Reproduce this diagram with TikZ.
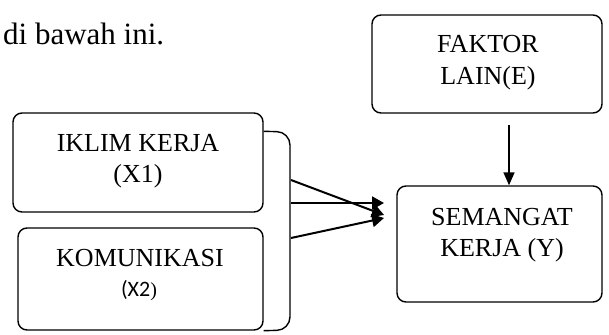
\documentclass[tikz,border=0pt]{standalone}
\usepackage{fontspec}
\setmainfont{Liberation Serif}
\newfontfamily\calfont{Carlito}
\usetikzlibrary{arrows.meta}
\begin{document}
\begin{tikzpicture}[x=1pt,y=1pt,
  box/.style={draw,line width=1.4pt,rounded corners=9pt,inner sep=0pt},
  lbl/.style={anchor=base,inner sep=0pt,font=\fontsize{26}{31}\selectfont},
  conn/.style={line width=2pt,-{Triangle[length=12pt,width=13pt]}},
  down/.style={line width=1.6pt,-{Triangle[length=13pt,width=11pt]}}]
\useasboundingbox (0,0) rectangle (609,334);
% intro text
\node[anchor=base west,inner sep=0pt,font=\fontsize{31}{36}\selectfont] (intro) at (3,289) {di bawah ini.};
% boxes
\node[box,minimum width=230pt,minimum height=98pt] (fak) at (487,270) {};
\node[box,minimum width=205pt,minimum height=116pt] (sem) at (499.5,90) {};
\node[box,minimum width=250pt,minimum height=99pt] (ik) at (138,171.5) {};
\node[box,minimum width=245pt,minimum height=102pt] (kom) at (140.5,55) {};
% labels
\node[lbl] (fak1) at (488,281) {FAKTOR};
\node[lbl] (fak2) at (488,249) {LAIN(E)};
\node[lbl] (ik1) at (138,182) {IKLIM KERJA};
\node[lbl] (ik2) at (138,151) {(X1)};
\node[lbl] (sem1) at (502,108) {SEMANGAT};
\node[lbl] (sem2) at (502,77) {KERJA (Y)};
\node[lbl] (kom1) at (140,67) {KOMUNIKASI};
\node[lbl] (kom2) at (139,37) {{\calfont\fontsize{22}{26}\selectfont (X2}\fontsize{20}{24}\selectfont )};
% bracket
\coordinate (bt) at ([yshift=-19pt]ik.north east);
\draw[line width=1.4pt,rounded corners=13pt] (bt) -- (290,202) -- (290,4) -- (kom.south east);
% arrows
\coordinate (a1) at (291,154);
\coordinate (a2) at (291,131);
\coordinate (a3) at (291,96);
\coordinate (h1) at (384,119);
\coordinate (h2) at (384,131);
\coordinate (h3) at (384,116);
\draw[conn] (a1) -- (h1);
\draw[conn] (a2) -- (h2);
\draw[conn] (a3) -- (h3);
\coordinate (dt) at (509,209);
\draw[down] (dt) -- (dt |- sem.north);
\end{tikzpicture}
\end{document}
